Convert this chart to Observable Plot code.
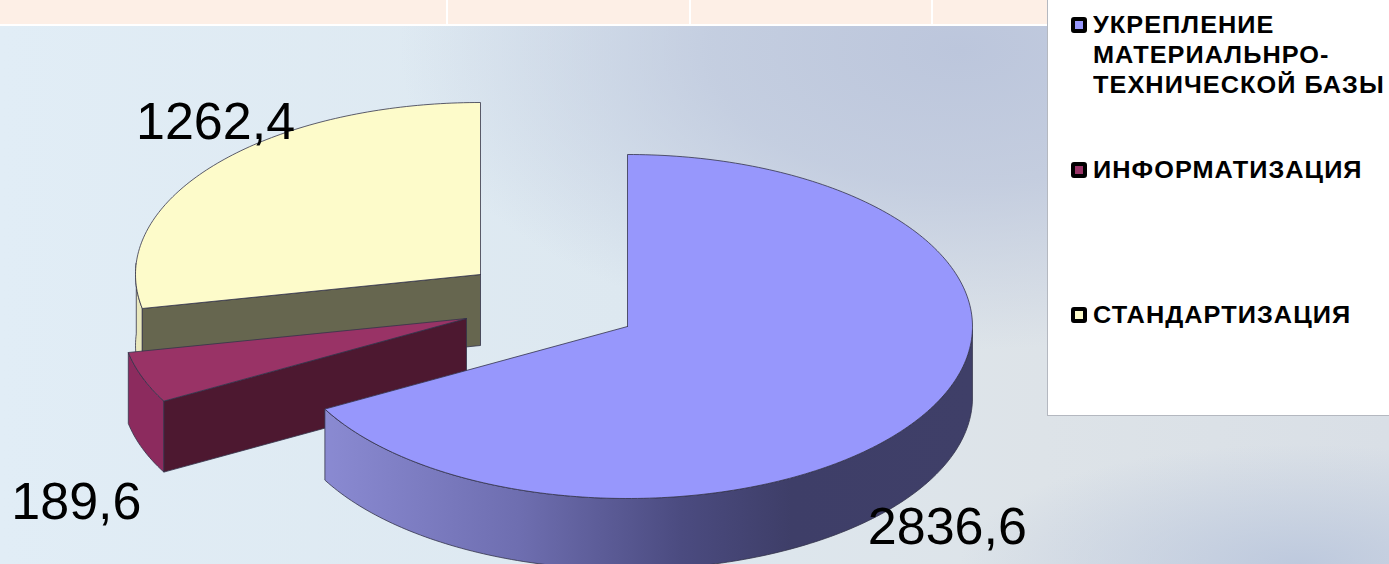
<!DOCTYPE html>
<html><head><meta charset="utf-8">
<script src="https://cdn.jsdelivr.net/npm/d3@7"></script>
<script src="https://cdn.jsdelivr.net/npm/@observablehq/plot@0.6"></script>
<style>
html,body{margin:0;padding:0;overflow:hidden}
#stage{position:relative;width:1389px;height:564px;overflow:hidden;font-family:"Liberation Sans",Arial,sans-serif;
background:
 radial-gradient(ellipse 560px 300px at 960px 50px, rgba(188,198,220,1), rgba(188,198,220,.75) 45%, rgba(188,198,220,0) 100%),
 radial-gradient(ellipse 340px 120px at 1300px 564px, rgba(188,200,221,.95), rgba(188,200,221,0) 100%),
 linear-gradient(90deg,#e1edf6 0%,#dde8f0 45%,#dde3e8 75%,#d9dfe6 100%);}
#band{position:absolute;left:0;top:0;width:1047px;height:24px;background:#fdefe6;border-bottom:2px solid #fff}
#band i{position:absolute;top:0;width:2px;height:24px;background:#fff}
#legend{position:absolute;left:1047px;top:-1px;width:342px;height:417px;background:#fff;border:1px solid #b4b8c0;box-sizing:border-box;border-right:0}
.li{position:absolute;left:45px;font-weight:bold;font-size:23px;line-height:30px;white-space:pre;color:#000;letter-spacing:.95px;transform:scaleX(1.1);transform-origin:left top}
.mk{position:absolute;left:23px;width:8px;height:8px;border:4px solid #000;border-radius:3px}
svg{position:absolute;left:0;top:0}
</style></head><body>
<div id="stage"><div id="band"><i style="left:446px"></i><i style="left:689px"></i><i style="left:931px"></i></div></div>
<script>
const categories = ["УКРЕПЛЕНИЕ\nМАТЕРИАЛЬНРО-\nТЕХНИЧЕСКОЙ БАЗЫ", "ИНФОРМАТИЗАЦИЯ", "СТАНДАРТИЗАЦИЯ"];
const values = [2836.6, 189.6, 1262.4];
const topColors = ["#9797fc", "#993366", "#fdfbca"];
const sideColors = ["url(#blueSide)", "#8c2b5e", "#e9e8bd"];
const cutColors = ["none", "#4d1830", "#66664f"];
const centersX = [627, 466, 480];
const centersY = [326, 318, 274];
const legendTops = [10, 155, 300];

const rx = 345, ry = 172, depth = 71;
const total = d3.sum(values);
const ends = d3.cumsum(values).map(v => v / total * 360);
const starts = [0, ...ends.slice(0, -1)];
// the 3-D view foreshortens the pie's angles slightly
const view = d3.scaleLinear().domain([0, ends[0], ends[1], 360]).range([0, 241.3, 258.6, 360]);

function rim(i, a, down = 0) {
  const t = view(a) * Math.PI / 180;
  return {x: centersX[i] + rx * Math.sin(t), y: centersY[i] - ry * Math.cos(t) + down};
}
function arc(i, a0, a1, down = 0) {
  return d3.range(a0, a1, 1).concat(a1).map(a => rim(i, a, down));
}
const C = (i, down = 0) => ({x: centersX[i], y: centersY[i] + down});
const topFace = i => [C(i), ...arc(i, starts[i], ends[i]), C(i)];
const sideFace = (i, a0, a1) => { const t = arc(i, a0, a1), b = arc(i, a0, a1, depth).reverse(); return [...t, ...b, t[0]]; };
const cutFace = (i, a) => [C(i), rim(i, a), rim(i, a, depth), C(i, depth), C(i)];

const edge = {stroke: "#33334a", strokeWidth: 0.8, strokeLinejoin: "round"};
const face = (pts, fill) => Plot.line(pts, {x: "x", y: "y", fill, ...edge});

const labelOffset = [[23, 113], [-66, 125], [2, -43]];
const labels = values.map((v, i) => ({
  ...rim(i, (starts[i] + ends[i]) / 2),
  text: d3.format(".1f")(v).replace(".", ","),
  dx: labelOffset[i][0], dy: labelOffset[i][1]
}));

const defs = () => {
  const s = d3.create("svg:defs");
  const g = s.append("linearGradient").attr("id", "blueSide").attr("x1", 0).attr("x2", 1).attr("y1", 0).attr("y2", 0);
  [[0, "#8a8ad2"], [.3, "#6e6eb0"], [.55, "#4b4b80"], [.72, "#3e3e68"], [1, "#3f3f68"]]
    .forEach(([o, c]) => g.append("stop").attr("offset", o).attr("stop-color", c));
  return s.node();
};

const plot = Plot.plot({
  width: 1389, height: 564, margin: 0,
  x: {domain: [0, 1389], range: [0, 1389], axis: null},
  y: {domain: [0, 564], range: [0, 564], axis: null},
  style: {background: "transparent"},
  marks: [
    defs,
    face(sideFace(2, ends[1], 270), sideColors[2]),
    face(cutFace(2, ends[1]), cutColors[2]),
    face(topFace(2), topColors[2]),
    face(sideFace(1, starts[1], ends[1]), sideColors[1]),
    face(cutFace(1, starts[1]), cutColors[1]),
    face(topFace(1), topColors[1]),
    face(sideFace(0, 90, ends[0]), sideColors[0]),
    face(topFace(0), topColors[0]),
    ...labels.map(l => Plot.text([l], {x: "x", y: "y", text: "text", dx: l.dx, dy: l.dy,
      fontSize: 52, fontFamily: "Liberation Sans", fill: "#000", textAnchor: "middle", lineAnchor: "middle"}))
  ]
});
const stage = document.getElementById("stage");
stage.appendChild(plot);
const lg = document.createElement("div"); lg.id = "legend";
categories.forEach((c, i) => {
  const d = document.createElement("div"); d.className = "li"; d.style.top = legendTops[i] + "px"; d.textContent = c;
  lg.appendChild(d);
  const m = document.createElement("span"); m.className = "mk"; m.style.background = topColors[i]; m.style.top = (legendTops[i] + 7) + "px"; lg.appendChild(m);
});
stage.appendChild(lg);
</script>
</body></html>
